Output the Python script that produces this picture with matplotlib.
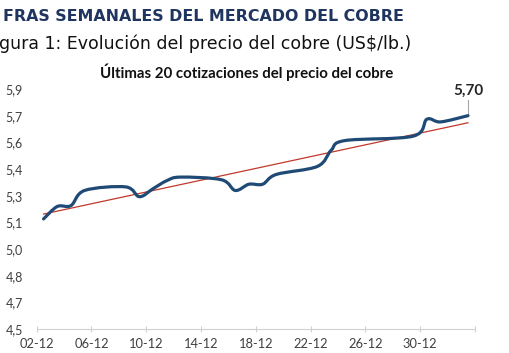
import numpy as np
import pandas as pd
import matplotlib
matplotlib.use("Agg")
from matplotlib import pyplot as plt
from matplotlib.path import Path
from matplotlib.patches import PathPatch
from decimal import Decimal, ROUND_HALF_UP

# ultimas cotizaciones (US$/lb)
fechas = ["2025-12-02", "2025-12-03", "2025-12-04", "2025-12-05", "2025-12-08",
          "2025-12-09", "2025-12-10", "2025-12-11", "2025-12-12", "2025-12-15",
          "2025-12-16", "2025-12-17", "2025-12-18", "2025-12-19", "2025-12-22",
          "2025-12-23", "2025-12-24", "2025-12-29", "2025-12-30", "2025-12-31",
          "2026-01-02"]
precios = [5.12, 5.19, 5.195, 5.28, 5.30,
           5.245, 5.29, 5.335, 5.355, 5.34,
           5.28, 5.315, 5.315, 5.37, 5.415,
           5.505, 5.56, 5.585, 5.68, 5.665,
           5.70]
tick_labels = ["02-12", "06-12", "10-12", "14-12", "18-12", "22-12", "26-12", "30-12", ""]
y_ticks = ["4.5", "4.65", "4.8", "4.95", "5.1", "5.25", "5.4", "5.55", "5.7", "5.85"]

fechas = pd.to_datetime(fechas)
dias = np.array((fechas - fechas[0]).days, dtype=float) + 0.5
y = np.array(precios)


def fmt(v, nd):
    q = Decimal(1).scaleb(-nd)
    return str(Decimal(v).quantize(q, rounding=ROUND_HALF_UP)).replace(".", ",")


def smooth_path(x, y):
    # excel-like smoothed line: bezier segments through the points
    pts = np.column_stack([x, y])
    verts = [pts[0]]
    codes = [Path.MOVETO]
    n = len(pts)
    for i in range(n - 1):
        p0 = pts[i - 1] if i > 0 else pts[i]
        p1 = pts[i]
        p2 = pts[i + 1]
        p3 = pts[i + 2] if i + 2 < n else pts[i + 1]
        c1 = p1 + (p2 - p0) / 6.0
        c2 = p2 - (p3 - p1) / 6.0
        verts += [c1, c2, p2]
        codes += [Path.CURVE4] * 3
    return Path(verts, codes)


fig = plt.figure(figsize=(5.1, 3.53), dpi=100)
ax = fig.add_axes([0.072, 0.067, 0.859, 0.681])

ax.add_patch(PathPatch(smooth_path(dias, y), facecolor="none",
                       edgecolor="#1f4a75", lw=2.3, capstyle="round",
                       joinstyle="round", zorder=3))

# linea de tendencia
a, b = np.polyfit(dias, y, 1)
ax.plot([dias[0], dias[-1]], [a * dias[0] + b, a * dias[-1] + b],
        color="#c0392b", lw=0.9, zorder=2)

ax.set_xlim(0, 32)
ax.set_ylim(4.5, 5.85)
ax.set_xticks(np.arange(0, 33, 4))
ax.set_xticklabels(tick_labels)
ax.set_yticks([float(v) for v in y_ticks])
ax.set_yticklabels([fmt(v, 1) for v in y_ticks])

for s in ["top", "right", "left"]:
    ax.spines[s].set_visible(False)
ax.spines["bottom"].set_color("#d0d0d0")
ax.tick_params(axis="x", direction="inout", length=4, color="#d0d0d0",
               labelsize=9.3, labelcolor="#404040", pad=4)
ax.tick_params(axis="y", length=0, labelsize=9, labelcolor="#404040", pad=10)
for lab in ax.get_xticklabels() + ax.get_yticklabels():
    lab.set_family("Lato")

# etiqueta del ultimo valor
ax.plot([dias[-1], dias[-1]], [y[-1], y[-1] + 0.09], color="#a6a6a6", lw=0.8)
ax.text(dias[-1], y[-1] + 0.1, fmt(str(precios[-1]), 2),
        ha="center", va="bottom", fontsize=11, fontweight="bold",
        family="Lato", color="#262626")

fig.text(0.006, 0.952, "FRAS SEMANALES DEL MERCADO DEL COBRE", ha="left",
         va="center", fontsize=11.4, fontweight="bold", color="#1f3560",
         family="DejaVu Sans")
fig.text(-0.002, 0.877, "gura 1: Evolución del precio del cobre (US$/lb.)",
         ha="left", va="center", fontsize=12.5, color="#111111",
         family="DejaVu Sans")
fig.text(0.483, 0.795, "Últimas 20 cotizaciones del precio del cobre",
         ha="center", va="center", fontsize=10.8, fontweight="bold",
         color="#111111", family="Lato")

fig.savefig("out.png", dpi=100)
